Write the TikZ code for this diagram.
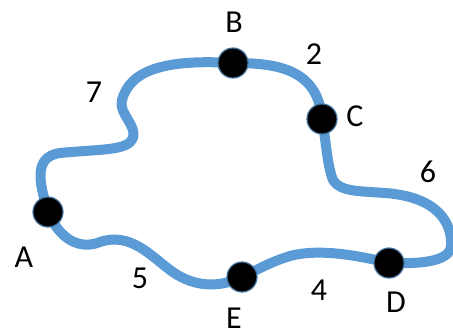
\documentclass[tikz,border=0pt]{standalone}
\usepackage{fontspec}
\setmainfont{Carlito}
\usepackage{tikz}

\begin{document}
\begin{tikzpicture}[x=0.75pt,y=0.75pt,yscale=-1,xscale=1,
  route/.style={color={rgb, 255:red, 91; green, 155; blue, 213 }, line width=7.5pt, line cap=round, line join=round},
  dot/.style={circle, fill=black, draw={rgb, 255:red, 65; green, 113; blue, 156 }, line width=0.9pt, inner sep=0pt, minimum size=22.5pt},
  lbl/.style={font=\fontsize{24}{28}\selectfont}]
\path[use as bounding box] (0,0) rectangle (453,329);

% points on the loop
\coordinate (A) at (48,212);
\coordinate (B) at (233,63);
\coordinate (C) at (322,119);
\coordinate (D) at (389,263);
\coordinate (E) at (242,277);

% Loop
\draw [route] (A) .. controls (42,190) and (30,157) .. (60,153)
  .. controls (100,149) and (128,151) .. (133,138)
  .. controls (137,125) and (118,113) .. (122,100)
  .. controls (130,70) and (165,59) .. (B)
  .. controls (275,63) and (318,68) .. (C)
  .. controls (326,140) and (327,165) .. (333,180)
  .. controls (340,192) and (360,191) .. (385,193)
  .. controls (440,197) and (452,225) .. (451,245)
  .. controls (451,262) and (420,264) .. (D)
  .. controls (360,256) and (320,248) .. (290,256)
  .. controls (270,262) and (255,271) .. (E)
  .. controls (215,290) and (190,285) .. (170,270)
  .. controls (150,255) and (130,232) .. (100,242)
  .. controls (80,250) and (60,240) .. (A) -- cycle;

% Dots
\node [dot] (dA) at (A) {};
\node [dot] (dB) at (B) {};
\node [dot] (dC) at (C) {};
\node [dot] (dD) at (D) {};
\node [dot] (dE) at (E) {};

% Text Node
\node [lbl] (tA) at (24,257) {A};
\node [lbl] (tB) at (234,22) {B};
\node [lbl] (tC) at (355,116) {C};
\node [lbl] (tD) at (396,302) {D};
\node [lbl] (tE) at (234,318) {E};
% Text Node
\node [lbl] (w7) at (94,92) {7};
\node [lbl] (w2) at (314,54) {2};
\node [lbl] (w6) at (428,172) {6};
\node [lbl] (w4) at (319,290) {4};
\node [lbl] (w5) at (140,278) {5};

\end{tikzpicture}
\end{document}
